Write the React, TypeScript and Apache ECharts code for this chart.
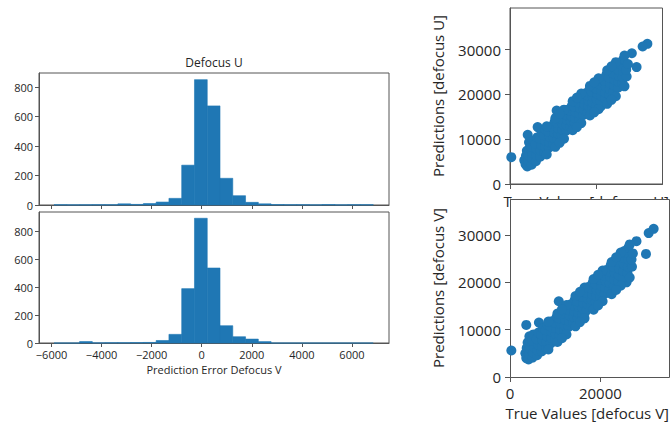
import React, { useEffect, useRef } from "react";
import * as echarts from "echarts";

// ---------- data ----------
const binEdges = [
  -5900, -5390, -4880, -4370, -3860, -3350, -2840, -2330, -1820, -1310, -800, -290, 220,
  730, 1240, 1750, 2260, 2770, 3280, 3790, 4300, 4810, 5320, 5830, 6340, 6850,
];
const countsU = [2, 1, 1, 2, 2, 8, 4, 10, 20, 45, 270, 850, 672, 181, 63, 18, 8, 3, 2, 2, 1, 3, 1, 2, 2];
const countsV = [0, 0, 10, 1, 2, 2, 3, 4, 18, 62, 390, 895, 538, 124, 45, 28, 10, 0, 0, 0, 0, 0, 0, 0, 0];

const histXTicks = [-6000, -4000, -2000, 0, 2000, 4000, 6000];
const histYTicks = [0, 200, 400, 600, 800];
const scatterYTicks = [0, 10000, 20000, 30000];
const scatterXTicks = [0, 20000];

const scatterU = [
  [300, 6000], [31800, 31300], [30700, 30700], [29300, 26100], [28200, 29200], [4100, 11000], [6400, 12700],
  [10800, 16400], [14400, 13100], [21000, 17300], [25500, 22300],
  [3300, 5300], [3600, 4400], [3700, 6300], [3900, 7400],
  [4000, 3900], [4200, 5200], [4300, 6400], [4500, 8000], [4400, 9300],
  [5000, 4300], [5100, 5700], [5200, 6900], [4900, 8300], [5300, 9700],
  [6000, 5100], [6100, 6400], [6200, 7700], [5900, 9000], [6300, 10400],
  [7000, 6100], [7100, 7400], [7200, 8700], [6900, 10100], [7300, 11500],
  [8000, 7100], [8100, 8300], [8200, 9600], [7900, 10900], [8300, 12100],
  [9000, 8100], [9100, 9300], [9200, 10500], [8900, 11700], [9300, 12800],
  [10000, 9000], [10100, 10300], [10200, 11500], [9900, 12700], [10300, 13800],
  [11000, 10000], [11100, 11200], [11200, 12400], [10900, 13600], [11300, 14800],
  [12000, 10900], [12100, 12100], [12200, 13300], [11900, 14500], [12400, 15700],
  [13000, 11900], [13100, 13100], [13200, 14300], [12900, 15500], [13300, 16600],
  [14000, 12800], [14100, 14000], [14200, 15200], [13900, 16400], [14300, 17400],
  [15000, 13600], [15100, 14800], [15200, 16000], [14900, 17200], [15300, 18400],
  [16000, 14500], [16100, 15700], [16200, 16900], [15900, 18100], [16300, 19300],
  [17000, 15400], [17100, 16600], [17200, 17800], [16900, 19000], [17300, 20200],
  [18000, 16100], [18100, 17400], [18200, 18600], [17900, 19800], [18300, 20900],
  [19000, 16900], [19100, 18200], [19200, 19400], [18900, 20600], [19300, 21700],
  [20000, 17600], [20100, 18900], [20200, 20100], [19900, 21300], [20300, 22500],
  [21000, 18400], [21100, 19700], [21200, 20900], [20900, 22100], [21300, 23400],
  [22000, 19100], [22100, 20400], [22200, 21700], [21900, 23000], [22300, 24400],
  [23000, 19900], [23100, 21200], [23200, 22500], [22900, 23800], [23300, 25200],
  [24000, 20700], [24100, 22000], [24200, 23300], [23900, 24700], [24300, 26100],
  [25000, 21500], [25100, 22800], [25200, 24100], [24900, 25600], [25300, 27000],
  [26000, 22500], [26100, 23800], [26200, 25200], [25900, 26500], [26200, 27800],
  [27000, 24000], [26900, 25500], [27300, 26800],
  [8500, 6600], [10500, 8300], [12500, 10100], [14500, 12000], [16500, 13600], [18500, 15300], [20500, 16700],
  [22500, 17900], [24500, 19600], [26500, 21800], [11500, 9200], [15500, 12700], [19500, 16000], [23500, 18800],
  [8500, 12900], [10500, 14700], [12500, 16600], [14500, 18500], [16500, 20200], [18500, 21900], [20500, 23600],
  [22500, 25400], [24500, 27200], [26500, 28700], [11500, 15700], [15500, 19300], [19500, 22700], [23500, 26300],
];

const scatterV = [
  [300, 5600], [31800, 31300], [30700, 30400], [30100, 26000], [28000, 28700], [3600, 11000], [6400, 11500],
  [10800, 16000], [16600, 13600], [25800, 20000],
  [3400, 5000], [3600, 4000], [3700, 6100], [3900, 7300],
  [4100, 3700], [4200, 4900], [4400, 6000], [4500, 7400], [4300, 8600],
  [5000, 4100], [5100, 5200], [5300, 6400], [4900, 7700], [5200, 9000],
  [6000, 4600], [6100, 5600], [6200, 6800], [5900, 8000], [6300, 9400],
  [7000, 5400], [7100, 6500], [7200, 7700], [6900, 9000], [7300, 10300],
  [8000, 6200], [8100, 7400], [8200, 8600], [7900, 9900], [8300, 11000],
  [9000, 7100], [9100, 8300], [9200, 9500], [8900, 10700], [9300, 11800],
  [10000, 7900], [10100, 9100], [10200, 10300], [9900, 11500], [10300, 12600],
  [11000, 8800], [11100, 10000], [11200, 11200], [10900, 12400], [11300, 13500],
  [12000, 9700], [12100, 10900], [12200, 12100], [11900, 13300], [12400, 14400],
  [13000, 10600], [13100, 11800], [13200, 13000], [12900, 14200], [13300, 15300],
  [14000, 11500], [14100, 12700], [14200, 13900], [13900, 15100], [14300, 16200],
  [15000, 12400], [15100, 13600], [15200, 14800], [14900, 16000], [15300, 17200],
  [16000, 13300], [16100, 14500], [16200, 15700], [15900, 16900], [16300, 18100],
  [17000, 14200], [17100, 15400], [17200, 16600], [16900, 17800], [17300, 19000],
  [18000, 15100], [18100, 16300], [18200, 17500], [17900, 18700], [18300, 19900],
  [19000, 15900], [19100, 17200], [19200, 18400], [18900, 19600], [19300, 20800],
  [20000, 16800], [20100, 18100], [20200, 19300], [19900, 20500], [20300, 21700],
  [21000, 17600], [21100, 18900], [21200, 20200], [20900, 21400], [21300, 22600],
  [22000, 18500], [22100, 19800], [22200, 21100], [21900, 22300], [22300, 23600],
  [23000, 19300], [23100, 20600], [23200, 22000], [22900, 23300], [23300, 24600],
  [24000, 20200], [24100, 21500], [24200, 22900], [23900, 24300], [24300, 25600],
  [25000, 21000], [25100, 22400], [25200, 23800], [24900, 25200], [25300, 26600],
  [26000, 21900], [26100, 23300], [26200, 24800], [25900, 26200], [26200, 27300],
  [27000, 23300], [26900, 24800], [27200, 26100],
  [8500, 5800], [10500, 7400], [12500, 9000], [14500, 10700], [16500, 12400], [18500, 14200], [20500, 16000],
  [22500, 17500], [24500, 19300], [26500, 21000], [11500, 8200], [15500, 11600], [19500, 15100], [23500, 18400],
  [8500, 11700], [10500, 13400], [12500, 15200], [14500, 17100], [16500, 18900], [18500, 20700], [20500, 22500],
  [22500, 24300], [24500, 26300], [26500, 28000], [11500, 14300], [15500, 18000], [19500, 21600], [23500, 25300],
];

// ---------- styles ----------
const BLUE = "#1f77b4";
const FONT = "Open Sans";
const TXT = "#262626";
const LINE = "#555";

const fmt = (v: number) => String(v).replace("-", "\u2212");

function histRows(counts: number[]) {
  return counts.map((c, i) => [binEdges[i], binEdges[i + 1], c]);
}

const renderBar = (params: any, api: any) => {
  const p0 = api.coord([api.value(0), api.value(2)]);
  const p1 = api.coord([api.value(1), 0]);
  return {
    type: "rect",
    shape: { x: p0[0], y: p0[1], width: p1[0] - p0[0], height: p1[1] - p0[1] },
    style: { fill: BLUE, stroke: BLUE, lineWidth: 0.6 },
  };
};

function valueAxis(extra: any) {
  return {
    type: "value",
    splitLine: { show: false },
    axisLine: { show: true, onZero: false, lineStyle: { color: LINE, width: 1 } },
    ...extra,
  };
}

export default function App() {
  const ref = useRef<HTMLDivElement>(null);

  useEffect(() => {
    if (!ref.current) return;
    const chart = echarts.init(ref.current, undefined, { renderer: "svg" });
    const histTick = (vals: number[]) => ({ show: true, length: 4, customValues: vals, lineStyle: { color: LINE } });
    const scTick = (vals: number[]) => ({ show: true, length: 5, customValues: vals, lineStyle: { color: LINE } });
    const histLabel = (vals: number[]) => ({
      show: true, customValues: vals, fontSize: 11, color: TXT, margin: 6, fontFamily: FONT, formatter: fmt,
    });
    const scLabel = (vals: number[], margin: number) => ({
      show: true, customValues: vals, fontSize: 15, color: TXT, margin, fontFamily: FONT, formatter: fmt,
    });

    const option: any = {
      animation: false,
      backgroundColor: "#fff",
      textStyle: { fontFamily: FONT },
      grid: [
        { left: 39, top: 73, width: 350, height: 132, show: true, borderColor: LINE, borderWidth: 1 },
        { left: 39, top: 212, width: 350, height: 131, show: true, borderColor: LINE, borderWidth: 1 },
        { left: 510, top: 8, width: 159, height: 176, show: true, borderColor: LINE, borderWidth: 1 },
        { left: 510, top: 199, width: 159, height: 178, show: false },
      ],
      xAxis: [
        valueAxis({
          gridIndex: 0, min: -6500, max: 7480,
          axisTick: histTick(histXTicks),
          axisLabel: { show: false },
        }),
        valueAxis({
          gridIndex: 1, min: -6500, max: 7480,
          axisTick: histTick(histXTicks),
          axisLabel: histLabel(histXTicks),
          name: "Prediction Error Defocus V", nameLocation: "middle", nameGap: 21,
          nameTextStyle: { fontSize: 11, color: TXT, fontFamily: FONT },
        }),
        valueAxis({
          gridIndex: 2, min: 0, max: 35300,
          axisTick: scTick(scatterXTicks),
          axisLabel: { show: false },
          name: "True Values [defocus U]", nameLocation: "middle", nameGap: 9,
          nameTextStyle: { fontSize: 15, color: TXT, fontFamily: FONT },
        }),
        valueAxis({
          gridIndex: 3, min: 0, max: 34200,
          axisTick: scTick(scatterXTicks),
          axisLabel: scLabel(scatterXTicks, 8),
          name: "True Values [defocus V]", nameLocation: "middle", nameGap: 28,
          nameTextStyle: { fontSize: 15, color: TXT, fontFamily: FONT },
        }),
      ],
      yAxis: [
        valueAxis({
          gridIndex: 0, min: 0, max: 895,
          axisTick: histTick(histYTicks),
          axisLabel: histLabel(histYTicks),
        }),
        valueAxis({
          gridIndex: 1, min: 0, max: 940,
          axisTick: histTick(histYTicks),
          axisLabel: histLabel(histYTicks),
        }),
        valueAxis({
          gridIndex: 2, min: 0, max: 39300,
          axisTick: scTick(scatterYTicks),
          axisLabel: scLabel(scatterYTicks, 9),
          name: "Predictions [defocus U]", nameLocation: "middle", nameGap: 65, nameRotate: 90,
          nameTextStyle: { fontSize: 15, color: TXT, fontFamily: FONT },
        }),
        valueAxis({
          gridIndex: 3, min: 0, max: 37600,
          axisTick: scTick(scatterYTicks),
          axisLabel: scLabel(scatterYTicks, 9),
          name: "Predictions [defocus V]", nameLocation: "middle", nameGap: 65, nameRotate: 90,
          nameTextStyle: { fontSize: 15, color: TXT, fontFamily: FONT },
        }),
      ],
      graphic: [
        {
          type: "text", x: 214, y: 62, z: 0,
          style: { text: "Defocus U", align: "center", verticalAlign: "middle", fontSize: 12, fontFamily: FONT, fill: TXT },
        },
        {
          type: "rect", z: 1,
          shape: { x: 510.5, y: 199.5, width: 159, height: 178 },
          style: { fill: "#fff", stroke: LINE, lineWidth: 1 },
        },
      ],
      series: [
        {
          type: "custom", xAxisIndex: 0, yAxisIndex: 0, renderItem: renderBar,
          encode: { x: [0, 1], y: 2 }, data: histRows(countsU),
        },
        {
          type: "custom", xAxisIndex: 1, yAxisIndex: 1, renderItem: renderBar,
          encode: { x: [0, 1], y: 2 }, data: histRows(countsV),
        },
        {
          type: "scatter", xAxisIndex: 2, yAxisIndex: 2, data: scatterU, symbolSize: 10, clip: false,
          itemStyle: { color: BLUE, opacity: 1 }, z: 3,
        },
        {
          type: "scatter", xAxisIndex: 3, yAxisIndex: 3, data: scatterV, symbolSize: 10, clip: false,
          itemStyle: { color: BLUE, opacity: 1 }, z: 3,
        },
      ],
    };
    chart.setOption(option);
    return () => chart.dispose();
  }, []);

  return (
    <div
      ref={ref}
      style={{ position: "fixed", left: 0, top: 0, width: 671, height: 424, background: "#fff" }}
    />
  );
}
